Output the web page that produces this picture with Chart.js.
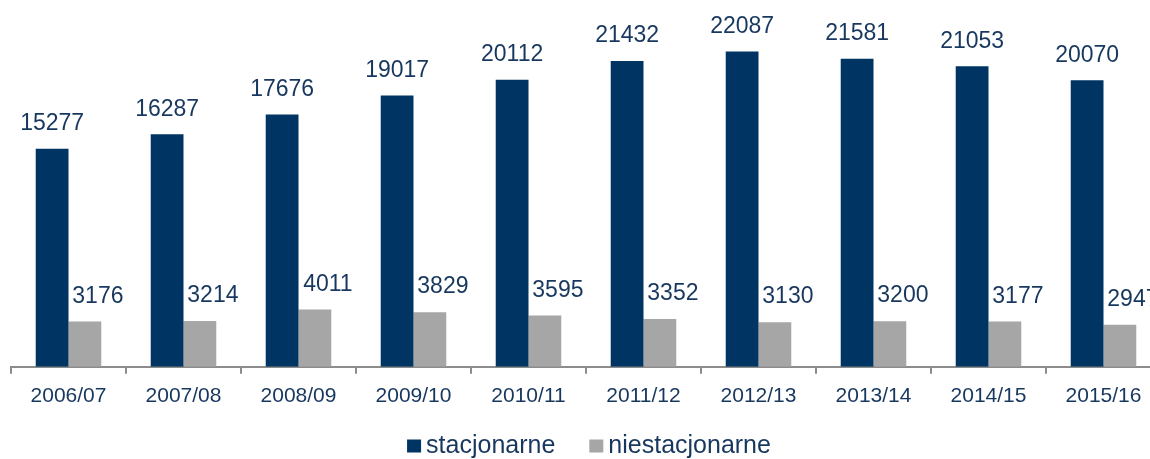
<!DOCTYPE html>
<html>
<head>
<meta charset="utf-8">
<script src="https://cdn.jsdelivr.net/npm/chart.js@4/dist/chart.umd.min.js"></script>
<style>
  html, body { margin: 0; padding: 0; background: #fff; overflow: hidden; }
  #wrap { width: 1161px; height: 459px; position: relative; }
</style>
</head>
<body>
<div id="wrap"><canvas id="c"></canvas></div>
<script>
const categories = ['2006/07','2007/08','2008/09','2009/10','2010/11','2011/12','2012/13','2013/14','2014/15','2015/16'];
const stacjonarne = [15277,16287,17676,19017,20112,21432,22087,21581,21053,20070];
const niestacjonarne = [3176,3214,4011,3829,3595,3352,3130,3200,3177,2947];
const seriesNames = ['stacjonarne','niestacjonarne'];

const NAVY = '#003462';
const GRAY = '#A6A6A6';
const TEXT = '#17375E';
const FONT = '"Liberation Sans", Arial, sans-serif';

const valueLabels = {
  id: 'valueLabels',
  afterDatasetsDraw(chart) {
    const ctx = chart.ctx;
    ctx.save();
    ctx.font = '23px ' + FONT;
    ctx.fillStyle = TEXT;
    ctx.textAlign = 'center';
    ctx.textBaseline = 'middle';
    chart.data.datasets.forEach((ds, di) => {
      const meta = chart.getDatasetMeta(di);
      const dx = di === 0 ? 0 : 13;
      meta.data.forEach((el, i) => {
        ctx.fillText(String(ds.data[i]), el.x + dx, el.y - 25);
      });
    });
    ctx.restore();
  }
};

const customLegend = {
  id: 'customLegend',
  afterDraw(chart) {
    const ctx = chart.ctx;
    ctx.save();
    ctx.font = '25px ' + FONT;
    const colors = [NAVY, GRAY];
    const box = 14, gap = 5, itemGap = 34;
    const widths = seriesNames.map(n => ctx.measureText(n).width);
    const total = box + gap + widths[0] + itemGap + box + gap + widths[1];
    let x = 589 - total / 2;
    const cy = 446;
    ctx.textBaseline = 'middle';
    ctx.textAlign = 'left';
    seriesNames.forEach((n, i) => {
      ctx.fillStyle = colors[i];
      ctx.fillRect(x, cy - 6.5, box, box - 1);
      x += box + gap;
      ctx.fillStyle = TEXT;
      ctx.fillText(n, x, cy);
      x += widths[i] + itemGap;
    });
    ctx.restore();
  }
};

new Chart(document.getElementById('c'), {
  type: 'bar',
  data: {
    labels: categories,
    datasets: [
      { label: seriesNames[0], data: stacjonarne, backgroundColor: NAVY, barPercentage: 1.0, categoryPercentage: 0.57 },
      { label: seriesNames[1], data: niestacjonarne, backgroundColor: GRAY, barPercentage: 1.0, categoryPercentage: 0.57 }
    ]
  },
  options: {
    responsive: true,
    maintainAspectRatio: false,
    animation: false,
    layout: { padding: { left: 11, right: 0, top: 10, bottom: 40 } },
    plugins: {
      legend: { display: false },
      tooltip: { enabled: false }
    },
    scales: {
      x: {
        grid: { display: true, offset: true, drawOnChartArea: false, drawTicks: true, tickLength: 7, color: '#8C8C8C', lineWidth: 2 },
        border: { display: true, color: '#8C8C8C', width: 2 },
        ticks: { color: TEXT, font: { family: FONT, size: 21 }, padding: 10, maxRotation: 0, autoSkip: false }
      },
      y: {
        display: false,
        min: 0,
        max: 25000
      }
    }
  },
  plugins: [valueLabels, customLegend]
});
</script>
</body>
</html>
